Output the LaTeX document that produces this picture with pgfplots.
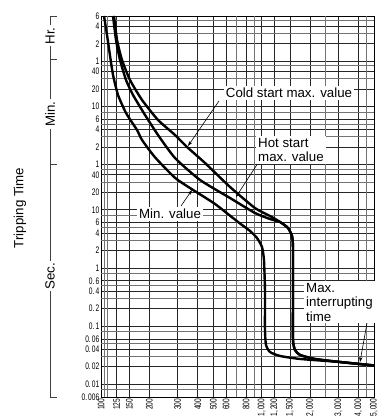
\documentclass[border=0pt]{standalone}
\usepackage{fontspec}
\setmainfont{Liberation Sans}
\usepackage{graphicx}
\usepackage{pgfplots}
\pgfplotsset{compat=1.18}
\usetikzlibrary{arrows.meta}
\newcommand{\tl}[1]{\scalebox{0.7}[1]{#1}}
\newcommand{\lf}{\fontsize{13.3}{14.5}\selectfont}

\begin{document}
\begin{tikzpicture}[x=1pt,y=1pt]
\useasboundingbox (0,0) rectangle (379,419);
\begin{axis}[
  at={(101pt,22pt)}, anchor=south west,
  scale only axis, width=273pt, height=381pt,
  xmode=log, ymode=log,
  xmin=100, xmax=5000, ymin=0.006, ymax=21600,
  xtick={100,125,150,200,300,400,500,600,800,1000,1200,1500,2000,3000,4000,5000},
  xticklabels={{\tl{100}},{\tl{125}},{\tl{150}},{\tl{200}},{\tl{300}},{\tl{400}},{\tl{500}},{\tl{600}},{\tl{800}},{\tl{1,\,000}},{\tl{1,\,200}},{\tl{1,\,500}},{\tl{2,\,000}},{\tl{3,\,000}},{\tl{4,\,000}},{\tl{5,\,000}}},
  ytick={0.006,0.01,0.02,0.04,0.06,0.1,0.2,0.4,0.6,1,2,4,6,10,20,40,60,120,240,360,600,1200,2400,3600,7200,14400,21600},
  yticklabels={{\tl{0.\,006}},{\tl{0.\,01}},{\tl{0.\,02}},{\tl{0.\,04}},{\tl{0.\,06}},{\tl{0.\,1}},{\tl{0.\,2}},{\tl{0.\,4}},{\tl{0.\,6}},{\tl{1}},{\tl{2}},{\tl{4}},{\tl{6}},{\tl{10}},{\tl{20}},{\tl{40}},{\tl{1}},{\tl{2}},{\tl{4}},{\tl{6}},{\tl{10}},{\tl{20}},{\tl{40}},{\tl{1}},{\tl{2}},{\tl{4}},{\tl{6}}},
  major tick length=0pt,
  grid=major,
  major grid style={black!85, line width=0.75pt},
  extra x ticks={105,110,700,900,2500,4500},
  extra x tick labels={},
  extra x tick style={grid=major, major tick length=0pt, major grid style={black!55, line width=0.75pt}},
  extra y ticks={0.008,0.03,0.05,0.08,0.3,0.5,0.8,3,5,8,30,50,180,300,480,1800,3000,10800,18000},
  extra y tick labels={},
  extra y tick style={grid=major, major tick length=0pt, major grid style={black!55, line width=0.75pt}},
  xticklabel style={rotate=90, anchor=east, font=\fontsize{9.5}{10}\selectfont, inner sep=1.5pt},
  yticklabel style={font=\fontsize{9.5}{10}\selectfont, inner sep=1.5pt},
  axis line style={black, line width=0.9pt},
  clip=true,
]
% Min. value
\addplot[black, line width=2.4pt, smooth, tension=0.35, line join=round] coordinates {
(104.4,21600) (109,10180) (113.7,4546) (118.8,2087) (127.6,945) (143.1,463) (167.5,236) (180,159) (216.8,80) (288.7,35.5) (368.4,22.5) (512,12.6) (712,6.17) (846,4.32) (935,3.27) (1004,2.29) (1033,1.37) (1048,0.417) (1048,0.0854) (1064,0.0471) (1126,0.0357) (1300,0.0305) (1731,0.0271) (3072,0.0240) (5370,0.0205)
};
% Cold start max. value
\addplot[black, line width=2.4pt, smooth, tension=0.35, line join=round] coordinates {
(120.5,21600) (125.8,8356) (135.1,3782) (151.5,1712) (180,775) (226.3,351) (288.7,193.6) (342.9,120.4) (443.8,63.9) (634.9,24.7) (908.3,10.7) (1126,7.82) (1300,6.17) (1458,4.86) (1544,3.54) (1566,2.20) (1566,0.28) (1566,0.0574) (1612,0.0387) (1731,0.0317) (2146,0.0271) (3072,0.0240) (5370,0.0205)
};
% Hot start max. value
\addplot[black, line width=2.4pt, smooth, tension=0.35, line join=round] coordinates {
(118.8,21600) (124,8356) (131.3,3782) (143.1,1712) (158.2,945) (187.9,428) (226.3,193.6) (288.7,77.8) (413.1,32.6) (634.9,15.95) (908.3,8.80) (1126,6.94) (1300,6.17) (1458,4.86) (1544,3.54) (1566,2.20) (1566,0.28) (1566,0.0574) (1612,0.0387) (1731,0.0317) (2146,0.0271) (3072,0.0240) (5370,0.0205)
};
\end{axis}
% left scale brackets
\draw[line width=0.8pt, black!75] (57,403) -- (50,403) -- (50,22) -- (57,22);
\draw[line width=0.8pt, black!75] (50,360) -- (57,360);
\draw[line width=0.8pt, black!75] (50,255) -- (57,255);
\node[rotate=90, fill=white, inner sep=2pt, font=\lf] at (50,383) {Hr.};
\node[rotate=90, fill=white, inner sep=2pt, font=\lf] at (50,305) {Min.};
\node[rotate=90, fill=white, inner sep=2pt, font=\lf] at (50,143) {Sec.};
\node[rotate=90, font=\lf] at (20,211) {Tripping Time};
% annotations
\draw[line width=0.6pt, -{Stealth[length=5pt,width=3.5pt]}] (219,318) -- (188,273);
\node[fill=white, inner sep=2pt, font=\lf] at (289,326) {Cold start max. value};
\draw[line width=0.6pt, -{Stealth[length=5pt,width=3.5pt]}] (258,256) -- (236,222);
\node[fill=white, inner sep=2pt, align=left, font=\lf, anchor=west] at (256,269) {Hot start\\max. value};
\draw[line width=0.6pt, -{Stealth[length=5pt,width=3.5pt]}] (181,213) -- (192,229);
\node[fill=white, inner sep=2pt, font=\lf] at (170,205) {Min. value};
\draw[line width=0.6pt, -{Stealth[length=5pt,width=3.5pt]}] (367,96) -- (360,57);
\node[fill=white, inner sep=2pt, align=left, font=\lf, anchor=west] at (304,117) {Max.\\interrupting\\time};
\end{tikzpicture}
\end{document}
